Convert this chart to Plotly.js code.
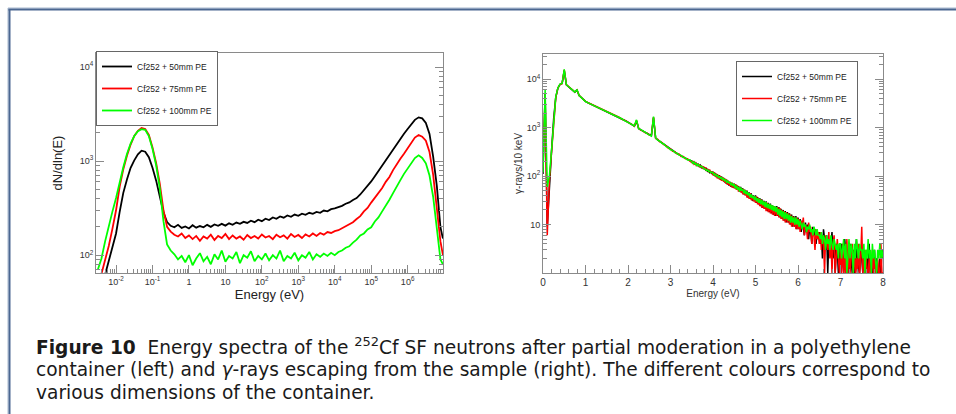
<!DOCTYPE html>
<html>
<head>
<meta charset="utf-8">
<script src="https://cdn.plot.ly/plotly-3.0.1.min.js"></script>
<style>
html,body{margin:0;padding:0;background:#fff;}
#chart{width:956px;height:414px;}
</style>
</head>
<body>
<div id="chart"></div>
<script>
// ---------- data ----------
const seriesNames = ['Cf252 + 50mm PE', 'Cf252 + 75mm PE', 'Cf252 + 100mm PE'];
const seriesColors = ['#000000', '#ff0000', '#00ff00'];

// Left panel: neutron energy (eV), dN/dln(E)
const neutronEnergy = [3.16e-3,3.98e-3,5.01e-3,6.31e-3,7.94e-3,
  1e-2,1.26e-2,1.58e-2,2e-2,2.51e-2,3.16e-2,3.98e-2,5.01e-2,6.31e-2,7.94e-2,
  0.1,0.126,0.158,0.2,0.251,0.316,0.398,0.501,0.631,0.794,
  1,1.26,1.58,2,2.51,3.16,3.98,5.01,6.31,7.94,
  10,12.6,15.8,20,25.1,31.6,39.8,50.1,63.1,79.4,
  100,126,158,200,251,316,398,501,631,794,
  1e3,1.26e3,1.58e3,2e3,2.51e3,3.16e3,3.98e3,5.01e3,6.31e3,7.94e3,
  1e4,1.26e4,1.58e4,2e4,2.51e4,3.16e4,3.98e4,5.01e4,6.31e4,7.94e4,
  1e5,1.26e5,1.58e5,2e5,2.51e5,3.16e5,3.98e5,5.01e5,6.31e5,7.94e5,
  1e6,1.26e6,1.58e6,2e6,2.51e6,3.16e6,3.98e6,5.01e6,6.31e6,7.94e6,9.3e6];
const neutron50 = [30,40,62,88,122,
  170,290,460,640,850,1020,1180,1290,1260,1100,
  850,620,415,285,225,205,198,210,195,202,
  192,208,196,204,198,210,200,212,205,215,
  206,218,210,222,215,226,220,232,224,238,
  230,244,236,252,244,258,250,264,256,270,
  262,276,268,282,275,288,282,298,292,308,
  314,324,334,352,364,386,404,442,488,546,
  608,692,788,892,1010,1172,1338,1532,1728,1952,
  2198,2482,2748,2920,2852,2548,1948,1118,548,198,150];
const neutron75 = [45,62,88,125,190,
  300,540,820,1150,1500,1850,2100,2250,2200,1900,
  1400,950,580,300,200,178,165,158,170,152,
  162,148,160,142,158,150,165,145,160,152,
  168,148,162,150,158,146,164,152,160,150,
  166,154,160,148,165,155,162,150,168,156,
  164,152,166,158,170,160,172,165,176,172,
  180,184,194,202,215,224,242,260,292,318,
  362,408,462,518,602,678,802,928,1062,1198,
  1382,1578,1782,1898,1822,1652,1248,718,332,140,100];
const neutron100 = [70,92,140,205,290,
  405,600,860,1200,1540,1850,2080,2190,2150,1850,
  1350,900,520,230,130,112,102,90,98,84,
  100,78,92,105,86,96,80,102,90,112,
  85,98,92,108,82,100,94,110,86,98,
  90,104,88,100,92,112,86,98,92,106,
  88,100,94,108,90,102,96,104,98,106,
  100,108,112,120,124,136,146,162,170,188,
  198,228,252,292,332,388,456,544,628,732,
  828,962,1078,1152,1082,948,702,418,182,90,80];
const neutronXTickVals = [1e-2,1e-1,1,10,100,1e3,1e4,1e5,1e6];
const neutronXTickText = ['10<sup>-2</sup>','10<sup>-1</sup>','1','10','10<sup>2</sup>','10<sup>3</sup>','10<sup>4</sup>','10<sup>5</sup>','10<sup>6</sup>'];
const neutronYTickVals = [100,1000,10000];
const neutronYTickText = ['10<sup>2</sup>','10<sup>3</sup>','10<sup>4</sup>'];

// Right panel: gamma-ray energy, gamma-rays / 10 keV
const gammaEnergy = [0,0.05,0.1,0.15,0.2,0.25,0.3,0.35,0.4,0.45,0.5,0.55,0.6,0.65,0.7,0.75,0.8,0.85,0.9,0.95,
  1,1.05,1.1,1.15,1.2,1.25,1.3,1.35,1.4,1.45,1.5,1.55,1.6,1.65,1.7,1.75,1.8,1.85,1.9,1.95,
  2,2.05,2.1,2.15,2.2,2.25,2.3,2.35,2.4,2.45,2.5,2.55,2.6,2.65,2.7,2.75,2.8,2.85,2.9,2.95,
  3,3.05,3.1,3.15,3.2,3.25,3.3,3.35,3.4,3.45,
  3.5,3.525,3.55,3.575,3.6,3.625,3.65,3.675,3.7,3.725,3.75,3.775,3.8,3.825,3.85,3.875,3.9,3.925,3.95,3.975,
  4,4.025,4.05,4.075,4.1,4.125,4.15,4.175,4.2,4.225,4.25,4.275,4.3,4.325,4.35,4.375,4.4,4.425,4.45,4.475,
  4.5,4.525,4.55,4.575,4.6,4.625,4.65,4.675,4.7,4.725,4.75,4.775,4.8,4.825,4.85,4.875,4.9,4.925,4.95,4.975,
  5,5.025,5.05,5.075,5.1,5.125,5.15,5.175,5.2,5.225,5.25,5.275,5.3,5.325,5.35,5.375,5.4,5.425,5.45,5.475,
  5.5,5.525,5.55,5.575,5.6,5.625,5.65,5.675,5.7,5.725,5.75,5.775,5.8,5.825,5.85,5.875,5.9,5.925,5.95,5.975,
  6,6.025,6.05,6.075,6.1,6.125,6.15,6.175,6.2,6.225,6.25,6.275,6.3,6.325,6.35,6.375,6.4,6.425,6.45,6.475,
  6.5,6.525,6.55,6.575,6.6,6.625,6.65,6.675,6.7,6.725,6.75,6.775,6.8,6.825,6.85,6.875,6.9,6.925,6.95,6.975,
  7,7.025,7.05,7.075,7.1,7.125,7.15,7.175,7.2,7.225,7.25,7.275,7.3,7.325,7.35,7.375,7.4,7.425,7.45,7.475,
  7.5,7.525,7.55,7.575,7.6,7.625,7.65,7.675,7.7,7.725,7.75,7.775,7.8,7.825,7.85,7.875,7.9,7.925,7.95,7.975,8];
const gamma50 = [110,5200,9,70,320,1500,4200,6500,7800,8200,15000,7600,7000,6450,5900,5400,5900,4600,4200,3800,
  3480,3280,3130,2990,2850,2740,2610,2500,2380,2260,2150,2040,1950,1850,1770,1700,1600,1520,1440,1370,
  1300,1220,1150,1080,1380,960,900,850,800,760,720,680,1600,610,560,520,480,450,410,380,
  355,335,315,295,278,262,248,236,220,212,
  205,188,196,172,185,168,176,158,168,150,160,141,152,134,142,126,133,118,126,110,
  124,102,116,96,110,90,104,84,98,80,92,74,86,68,80,64,76,60,72,58,
  70,56,66,52,62,48,60,46,56,42,52,40,50,36,46,34,44,31,40,30,
  40,28,37,26,35,24,33,22,31,21,30,19,28,18,27,17,25,16,24,15,
  24,15,23,14,21,13,20,12,19,11,18,11,17,10,16,9,15,9,15,8,
  14,8,13,7,12,9,6,11,7,10,5,9,7,4,9,6,8,4,7,5,
  7,4,6,2,8,5,3,6,1,5,3,4,7,2,5,1,4,3,1,4,
  1,4,2,1,5,2,1,3,1,4,2,1,3,1,2,5,1,2,1,3,
  2,1,3,1,1,2,1,4,1,2,1,1,3,1,2,1,1,2,1,3,2];
const gamma75 = [150,4800,6,80,300,1450,4100,6600,7700,8100,15500,7700,7100,6500,5950,5450,6000,4620,4250,3820,
  3500,3300,3150,3000,2870,2750,2630,2510,2390,2280,2160,2060,1940,1870,1780,1690,1620,1510,1460,1380,
  1290,1240,1160,1070,1400,970,890,860,790,770,700,690,1650,600,570,510,490,440,420,375,
  365,325,320,290,285,255,255,228,228,205,
  190,200,178,190,170,182,160,174,150,165,144,158,136,150,128,140,124,132,116,124,
  104,120,98,112,90,106,86,100,80,94,76,90,70,84,66,78,62,74,58,70,
  56,68,52,64,48,60,46,56,42,54,40,50,36,46,34,44,32,40,30,38,
  28,38,26,35,24,33,22,31,21,29,19,28,18,26,17,25,16,24,15,23,
  15,23,14,22,13,20,12,19,11,18,11,17,10,16,9,15,9,14,8,14,
  8,13,7,12,9,14,6,10,8,5,11,7,9,4,8,6,3,8,5,7,
  4,7,3,6,5,1,6,4,3,7,2,5,1,4,6,1,3,5,2,1,
  3,1,4,1,2,1,5,1,3,1,2,4,1,3,1,2,1,4,1,2,
  9,1,2,1,3,1,1,2,1,1,3,1,2,1,1,2,1,1,4,1,1];
const gamma100 = [120,6000,60,100,330,1550,4300,6600,7900,8200,16000,7700,7050,6500,5900,5400,6100,4580,4220,3790,
  3460,3290,3140,2980,2840,2730,2620,2490,2370,2270,2140,2050,1960,1840,1760,1710,1590,1530,1430,1360,
  1310,1210,1140,1090,1450,950,910,840,810,750,715,670,1700,615,550,525,475,455,405,390,
  350,340,305,300,272,268,242,240,215,218,
  200,184,194,176,182,164,174,162,156,160,148,146,142,138,130,134,124,126,118,120,
  118,106,110,100,104,94,98,90,94,84,88,80,84,74,78,72,74,66,70,62,
  68,56,64,52,60,48,58,50,54,44,52,42,48,40,45,36,42,35,39,32,
  38,30,35,28,34,26,32,25,30,23,29,22,27,21,26,20,25,19,24,18,
  23,16,21,15,20,14,19,13,18,13,17,12,16,11,15,11,14,10,14,10,
  13,9,12,10,8,11,9,10,7,9,8,10,7,8,6,9,7,6,8,6,
  6,5,7,4,6,5,3,6,4,5,3,6,4,3,5,4,3,4,2,4,
  4,2,3,5,2,4,1,3,5,2,4,3,1,4,2,5,3,2,4,3,
  3,2,4,1,3,2,5,2,3,1,4,2,3,2,1,3,2,4,2,3,2];
const gammaYTickVals = [10,100,1000,10000];
const gammaYTickText = ['10','10<sup>2</sup>','10<sup>3</sup>','10<sup>4</sup>'];

const captionLines = [
  '<b>Figure 10</b>  Energy spectra of the <sup>252</sup>Cf SF neutrons after partial moderation in a polyethylene',
  'container (left) and <i>γ</i>-rays escaping from the sample (right). The different colours correspond to',
  'various dimensions of the container.'
];

// ---------- build ----------
const W = 956, H = 414;
const px = v => v / W;
const py = v => 1 - v / H;
const FONT = 'Liberation Sans, Arial, sans-serif';

const neutronY = [neutron50, neutron75, neutron100];
const gammaY = [gamma50, gamma75, gamma100];
const traces = [];
for (let i = 0; i < 3; i++) {
  traces.push({
    type: 'scatter', mode: 'lines', x: neutronEnergy, y: neutronY[i],
    line: {color: seriesColors[i], width: 1.8},
    name: seriesNames[i], xaxis: 'x', yaxis: 'y',
    legend: 'legend', legendgroup: 'n' + i
  });
}
for (let i = 0; i < 3; i++) {
  traces.push({
    type: 'scatter', mode: 'lines', x: gammaEnergy, y: gammaY[i],
    line: {color: seriesColors[i], width: 1.5},
    name: seriesNames[i], xaxis: 'x2', yaxis: 'y2',
    legend: 'legend2', legendgroup: 'g' + i
  });
}

const axisCommon = {
  showgrid: false, zeroline: false, showline: true, linecolor: '#8a8a8a', linewidth: 1,
  ticks: 'inside', tickcolor: '#8a8a8a', ticklen: 8, tickwidth: 1,
  tickfont: {family: FONT, size: 9, color: '#333'}
};
const minorLog = {ticks: 'inside', ticklen: 4, tickcolor: '#8a8a8a', dtick: 'D1', showgrid: false};

const layout = {
  width: W, height: H,
  margin: {l: 0, r: 0, t: 0, b: 0},
  paper_bgcolor: '#ffffff', plot_bgcolor: '#ffffff',
  showlegend: true,
  xaxis: Object.assign({}, axisCommon, {
    type: 'log', domain: [px(96), px(443)], range: [-2.55, 6.97], anchor: 'y', mirror: true,
    tickmode: 'array', tickvals: neutronXTickVals, ticktext: neutronXTickText,
    minor: minorLog,
    title: {text: 'Energy (eV)', font: {family: FONT, size: 13, color: '#222'}, standoff: 1}
  }),
  yaxis: Object.assign({}, axisCommon, {
    type: 'log', domain: [py(273), py(53)], range: [1.81, 4.15], anchor: 'x', mirror: 'allticks',
    tickmode: 'array', tickvals: neutronYTickVals, ticktext: neutronYTickText,
    minor: minorLog,
    title: {text: 'dN/dln(E)', font: {family: FONT, size: 13, color: '#222'}, standoff: 14}
  }),
  xaxis2: Object.assign({}, axisCommon, {
    type: 'linear', domain: [px(543), px(883)], range: [0, 8], anchor: 'y2', mirror: true,
    dtick: 1, tick0: 0, tickfont: {family: FONT, size: 10, color: '#333'},
    minor: {ticks: 'inside', ticklen: 4, tickcolor: '#8a8a8a', dtick: 0.2, showgrid: false},
    title: {text: 'Energy (eV)', font: {family: FONT, size: 10, color: '#333'}, standoff: 1}
  }),
  yaxis2: Object.assign({}, axisCommon, {
    type: 'log', domain: [py(273), py(54)], range: [0, 4.52], anchor: 'x2', mirror: 'allticks',
    tickmode: 'array', tickvals: gammaYTickVals, ticktext: gammaYTickText,
    minor: minorLog,
    title: {text: 'γ-rays/10 keV', font: {family: FONT, size: 10, color: '#333'}, standoff: 2}
  }),
  legend: {
    x: px(96), y: py(51), xanchor: 'left', yanchor: 'top', xref: 'paper', yref: 'paper',
    bgcolor: '#ffffff', bordercolor: '#666', borderwidth: 1,
    font: {family: FONT, size: 8.5, color: '#222'},
    tracegroupgap: 3, itemwidth: 30
  },
  legend2: {
    x: px(736), y: py(61), xanchor: 'left', yanchor: 'top', xref: 'paper', yref: 'paper',
    bgcolor: '#ffffff', bordercolor: '#666', borderwidth: 1,
    font: {family: FONT, size: 8.5, color: '#222'},
    tracegroupgap: 3, itemwidth: 30
  },
  shapes: [
    {type: 'line', xref: 'paper', yref: 'paper', x0: px(8), x1: 1, y0: py(8), y1: py(8), line: {color: '#a7b8cf', width: 1}},
    {type: 'line', xref: 'paper', yref: 'paper', x0: px(8), x1: 1, y0: py(9.5), y1: py(9.5), line: {color: '#4b6791', width: 2}},
    {type: 'line', xref: 'paper', yref: 'paper', x0: px(8), x1: px(8), y0: py(8), y1: 0, line: {color: '#a7b8cf', width: 1}},
    {type: 'line', xref: 'paper', yref: 'paper', x0: px(9.5), x1: px(9.5), y0: py(9.5), y1: 0, line: {color: '#4b6791', width: 2}}
  ],
  annotations: captionLines.map((t, k) => ({
    text: t, xref: 'paper', yref: 'paper', x: px(34), y: py(346 + 23 * k),
    xanchor: 'left', yanchor: 'middle', showarrow: false, align: 'left',
    font: {family: 'DejaVu Sans, sans-serif', size: 18.6, color: '#1a1a1a'}
  }))
};

Plotly.newPlot('chart', traces, layout, {displayModeBar: false, staticPlot: true});
</script>
</body>
</html>
